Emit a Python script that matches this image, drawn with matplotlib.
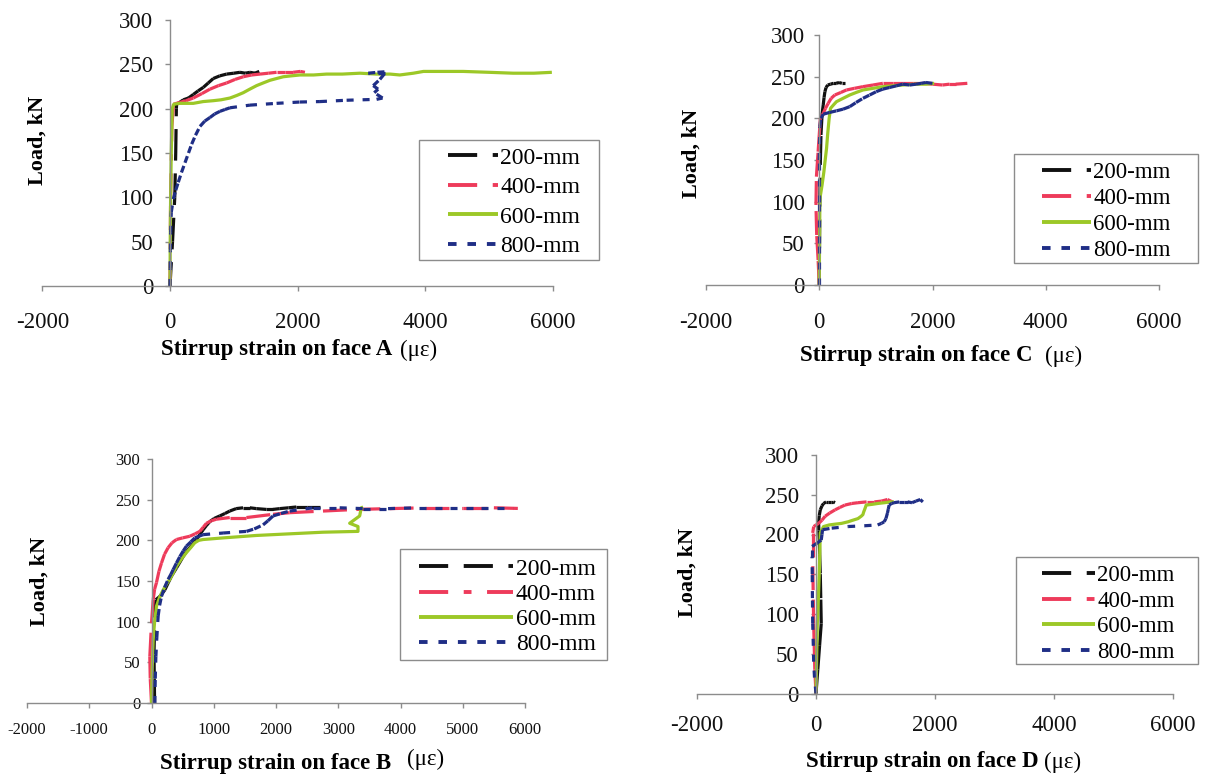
import matplotlib
matplotlib.use("Agg")
import matplotlib.pyplot as plt
from matplotlib.collections import LineCollection
from matplotlib.lines import Line2D
from matplotlib.patches import Rectangle
import numpy as np

plt.rcParams['font.family'] = ['Liberation Serif', 'DejaVu Serif']
plt.rcParams['axes.unicode_minus'] = False

# ---------------- data ----------------
series_labels = ["200-mm", "400-mm", "600-mm", "800-mm"]

# Face A
faceA_200_strain = [0, 40, 75, 90, 100, 104, 150, 209, 290, 365, 440, 522, 600, 678, 780, 887, 1000, 1096, 1180, 1253, 1330, 1399]
faceA_200_load   = [0, 50, 100, 150, 200, 205, 207, 210, 212, 216, 220, 224, 229, 234, 237, 239, 240, 241, 240, 241, 240, 242]
faceA_400_strain = [0, 10, 30, 55, 150, 250, 365, 500, 626, 760, 887, 1020, 1148, 1280, 1410, 1540, 1670, 1800, 1931, 2040, 2114]
faceA_400_load   = [0, 100, 180, 205, 207, 209, 212, 217, 222, 226, 229, 233, 236, 238, 239, 240, 241, 241, 241, 242, 241]
faceA_600_strain = [0, 5, 10, 20, 35, 60, 150, 250, 365, 520, 678, 800, 940, 1050, 1148, 1250, 1357, 1460, 1566, 1670, 1775, 1900, 2036, 2250, 2453, 2700, 2975, 3236, 3448, 3600, 3813, 3971, 4300, 4593, 5000, 5376, 5700, 5982]
faceA_600_load   = [0, 60, 100, 150, 200, 205, 206, 206, 206, 208, 209, 210, 212, 215, 218, 222, 226, 229, 232, 234, 236, 237, 238, 238, 239, 239, 240, 239, 239, 238, 240, 242, 242, 242, 241, 240, 240, 241]
faceA_800_strain = [0, 3, 6, 10, 20, 52, 90, 130, 180, 235, 290, 340, 400, 470, 545, 626, 700, 783, 860, 940, 1253, 1670, 2036, 2349, 2767, 3236, 3330, 3200, 3260, 3184, 3288, 3367, 3106, 3250, 3445]
faceA_800_load   = [0, 20, 40, 60, 83, 98, 108, 117, 128, 139, 150, 160, 170, 180, 186, 190, 194, 197, 199, 201, 204, 206, 207.5, 208, 209.5, 210.5, 212, 218, 222, 226, 233, 240, 240, 241, 242]

# Face C
faceC_200_strain = [0, 5, 10, 20, 30, 50, 70, 85, 100, 120, 150, 200, 250, 300, 350, 400, 450]
faceC_200_load   = [0, 50, 100, 150, 180, 205, 216, 225, 232, 237, 240, 241, 242, 242, 243, 242, 242]
faceC_400_strain = [0, -20, -45, -58, -50, -20, 0, 20, 70, 110, 158, 210, 275, 380, 480, 620, 772, 950, 1123, 1300, 1474, 1650, 1825, 2000, 2176, 2300, 2410, 2615]
faceC_400_load   = [0, 30, 60, 96, 130, 160, 180, 200, 206, 212, 218, 224, 228, 231, 234, 236, 238, 240, 242, 242, 242, 242, 242, 241, 240, 241, 241, 242]
faceC_600_strain = [0, 5, 12, 50, 82, 105, 129, 150, 175, 199, 250, 304, 420, 538, 650, 772, 950, 1123, 1300, 1474, 1700, 1884, 2030]
faceC_600_load   = [0, 50, 104, 120, 136, 150, 164, 182, 200, 212, 216, 220, 224, 228, 231, 234, 236, 238, 239, 240, 241, 241, 242]
faceC_800_strain = [0, 0, 0, 0, 10, 30, 70, 180, 304, 420, 538, 650, 772, 890, 1006, 1120, 1240, 1360, 1474, 1600, 1708, 1800, 1884, 2000]
faceC_800_load   = [0, 50, 100, 150, 190, 200, 205, 207, 209, 211, 214, 219, 224, 228, 232, 235, 237, 239, 241, 240, 241, 242, 243, 242]

# Face B
faceB_200_strain = [50, 45, 40, 53, 70, 134, 214, 270, 321, 401, 455, 508, 560, 615, 670, 722, 776, 829, 880, 936, 1010, 1097, 1180, 1257, 1360, 1471, 1580, 1685, 1846, 1950, 2060, 2200, 2327, 2500, 2702]
faceB_200_load   = [0, 30, 60, 107, 127, 131, 139, 148, 156, 166, 173, 180, 186, 191, 196, 201, 207, 213, 218, 223, 227, 230, 233, 236, 239, 240, 240, 239, 238, 238, 239, 240, 241, 241, 241]
faceB_400_strain = [0, -20, -27, 0, 27, 50, 80, 120, 160, 210, 267, 330, 401, 500, 615, 700, 776, 830, 883, 960, 1043, 1257, 1525, 1953, 2220, 2755, 3290, 3825, 4400, 5000, 5500, 6000]
faceB_400_load   = [0, 30, 57, 98, 127, 140, 148, 162, 172, 183, 191, 197, 201, 203, 205, 208, 211, 216, 221, 224, 226, 228, 228, 232, 234, 236, 238, 239, 240, 240, 240, 239]
faceB_600_strain = [0, 10, 27, 50, 80, 130, 187, 240, 294, 350, 401, 480, 562, 630, 695, 760, 829, 1150, 1685, 2220, 2755, 3317, 3317, 3183, 3344, 3370, 3400]
faceB_600_load   = [0, 40, 78, 100, 119, 130, 139, 146, 152, 160, 168, 177, 185, 191, 197, 200, 201, 203, 206, 208, 210, 211, 217, 221, 230, 240, 241]
faceB_800_strain = [53, 60, 70, 85, 107, 130, 160, 210, 267, 310, 348, 400, 455, 510, 562, 630, 695, 760, 829, 1150, 1525, 1650, 1792, 1870, 1953, 2080, 2220, 2595, 3023, 3397, 3800, 4300, 4800, 5300, 5800]
faceB_800_load   = [0, 30, 57, 80, 107, 120, 131, 142, 152, 158, 164, 172, 180, 187, 193, 198, 203, 205, 207, 209, 211, 214, 219, 224, 230, 233, 236, 240, 240, 239, 239, 240, 240, 240, 240]

# Face D
faceD_200_strain = [0, 30, 60, 88, 80, 72, 62, 55, 48, 44, 55, 72, 100, 127, 170, 209, 250, 292, 320]
faceD_200_load   = [0, 30, 60, 88, 120, 151, 175, 193, 205, 214, 224, 231, 236, 239, 241, 241, 241, 241, 240]
faceD_400_strain = [0, -20, -30, -39, -48, -55, -55, -39, 0, 44, 100, 154, 230, 320, 400, 485, 600, 705, 850, 981, 1100, 1201, 1284]
faceD_400_load   = [0, 30, 60, 88, 130, 172, 202, 210, 212, 214, 218, 223, 227, 231, 234, 237, 239, 240, 241, 241, 242, 244, 241]
faceD_600_strain = [0, 10, 22, 40, 55, 65, 72, 127, 220, 320, 430, 540, 620, 705, 760, 788, 800, 815, 830, 843, 950, 1036, 1150, 1250, 1311]
faceD_600_load   = [0, 40, 88, 120, 151, 180, 202, 210, 212, 213, 214, 216, 218, 220, 223, 225, 228, 231, 234, 237, 238, 239, 240, 241, 241]
faceD_800_strain = [0, -25, -39, -45, -55, -60, -63, -66, -66, 16, 88, 100, 110, 264, 540, 815, 1036, 1100, 1146, 1175, 1201, 1215, 1229, 1270, 1311, 1400, 1477, 1540, 1614, 1680, 1752, 1796]
faceD_800_load   = [0, 20, 40, 60, 88, 120, 150, 172, 185, 189, 193, 200, 206, 208, 210, 211, 212, 214, 216, 220, 227, 232, 237, 239, 240, 241, 241, 241, 240, 242, 244, 241]

x_ticks_main = [-2000, 0, 2000, 4000, 6000]
x_ticks_B = [-2000, -1000, 0, 1000, 2000, 3000, 4000, 5000, 6000]
y_ticks = [0, 50, 100, 150, 200, 250, 300]

# ---------------- styles ----------------
series_colors = ["#111111", "#EE3B5B", "#9CC827", "#1F2E86"]
series_dashes = [(7.5, 4.0), (7.5, 4.0, 2.0, 4.0), None, (2.2, 2.8)]
LW = 2.3
AXC = "#8c8c8c"
UNIT = "(\u03bc\u03b5)"

W, H = 1208, 778
fig = plt.figure(figsize=(W / 100, H / 100), dpi=100)
fig.patch.set_facecolor("white")


def px_axes(x0, x1, ytop, ybot):
    return [x0 / W, 1 - ybot / H, (x1 - x0) / W, (ybot - ytop) / H]


panels = [
    dict(name="A", rect=(42.3, 553, 20, 286), xticks=x_ticks_main, tfs=16.5, ypad=8.5, xpad=15.5,
         xlabel="Stirrup strain on face A", xlab=(0.4596, -0.2406), unit_off=(7, 0), ylab=(-0.0088, 0.549),
         box=(419, 140, 599, 260), anchor=(448, 147), hl=2.12, ls=0.34, lfs=17,
         data=[(faceA_200_strain, faceA_200_load), (faceA_400_strain, faceA_400_load),
               (faceA_600_strain, faceA_600_load), (faceA_800_strain, faceA_800_load)]),
    dict(name="C", rect=(706, 1159, 35, 285), xticks=x_ticks_main, tfs=16.5, ypad=7, xpad=16,
         xlabel="Stirrup strain on face C", xlab=(0.4636, -0.284), unit_off=(13, 0), ylab=(-0.031, 0.525),
         box=(1014, 154, 1198, 263), anchor=(1042, 162), hl=2.13, ls=0.22, lfs=16.5,
         data=[(faceC_200_strain, faceC_200_load), (faceC_400_strain, faceC_400_load),
               (faceC_600_strain, faceC_600_load), (faceC_800_strain, faceC_800_load)]),
    dict(name="B", rect=(27, 525, 459, 703), xticks=x_ticks_B, tfs=12, ypad=4.5, xpad=10.4,
         xlabel="Stirrup strain on face B", xlab=(0.4994, -0.246), unit_off=(16, 4), ylab=(0.026, 0.5),
         box=(400, 549, 607, 660), anchor=(419, 558), hl=4.0, ls=0.16, lfs=17,
         data=[(faceB_200_strain, faceB_200_load), (faceB_400_strain, faceB_400_load),
               (faceB_600_strain, faceB_600_load), (faceB_800_strain, faceB_800_load)]),
    dict(name="D", rect=(697, 1173, 455, 693.5), xticks=x_ticks_main, tfs=16.5, ypad=9, xpad=12.3,
         xlabel="Stirrup strain on face D", xlab=(0.4727, -0.287), unit_off=(6, 0), ylab=(-0.02, 0.5065),
         box=(1016, 557, 1198, 664), anchor=(1042, 565), hl=2.3, ls=0.2, lfs=16.5,
         data=[(faceD_200_strain, faceD_200_load), (faceD_400_strain, faceD_400_load),
               (faceD_600_strain, faceD_600_load), (faceD_800_strain, faceD_800_load)]),
]


def draw_series(ax, x, y, color, dashes):
    x = np.asarray(x, float)
    y = np.asarray(y, float)
    if dashes is None:
        ax.plot(x, y, color=color, lw=LW, solid_joinstyle="round", solid_capstyle="butt")
        return
    pts = np.column_stack([x, y])
    segs = np.stack([pts[:-1], pts[1:]], axis=1)
    lc = LineCollection(segs, colors=color, linewidths=LW, linestyles=[(0, dashes)],
                        capstyle="butt", joinstyle="round")
    ax.add_collection(lc)


for p in panels:
    x0, x1, ytop, ybot = p["rect"]
    ax = fig.add_axes(px_axes(x0, x1, ytop, ybot))
    ax.set_xlim(-2000, 6000)
    ax.set_ylim(0, 300)
    ax.patch.set_visible(False)
    for s in ["top", "right"]:
        ax.spines[s].set_visible(False)
    ax.spines["left"].set_position(("data", 0))
    for s in ["left", "bottom"]:
        ax.spines[s].set_color(AXC)
        ax.spines[s].set_linewidth(1.0)
    ax.set_xticks(p["xticks"])
    ax.set_yticks(y_ticks)
    ax.tick_params(axis="y", direction="out", length=3.5, width=1, color=AXC,
                   pad=p["ypad"], labelsize=p["tfs"], labelcolor="#111111")
    ax.tick_params(axis="x", direction="out", length=3.5, width=1, color=AXC,
                   pad=p["xpad"], labelsize=p["tfs"], labelcolor="#111111")

    for (xs, ys), c, d in zip(p["data"], series_colors, series_dashes):
        draw_series(ax, xs, ys, c, d)

    ax.set_xlabel(p["xlabel"], fontsize=16.5, fontweight="bold", va="center", ha="center")
    ax.xaxis.set_label_coords(*p["xlab"])
    ax.annotate(UNIT, xy=(1, 0.5), xycoords=ax.xaxis.label, xytext=p["unit_off"],
                textcoords="offset pixels", ha="left", va="center", fontsize=16.5,
                fontweight="normal", annotation_clip=False)
    ax.set_ylabel("Load, kN", fontsize=16, fontweight="bold", va="center", ha="center", rotation=90)
    ax.yaxis.set_label_coords(*p["ylab"])

    # legend frame
    bx0, by0, bx1, by1 = p["box"]
    rect = Rectangle((bx0 / W, 1 - by1 / H), (bx1 - bx0) / W, (by1 - by0) / H,
                     transform=fig.transFigure, facecolor="white", edgecolor=AXC,
                     lw=1.0, zorder=4, clip_on=False)
    ax.add_patch(rect)

    handles = []
    for c, d in zip(series_colors, series_dashes):
        if d is None:
            h = Line2D([], [], color=c, lw=LW + 0.5, solid_capstyle="butt")
        else:
            h = Line2D([], [], color=c, lw=LW + 0.5, dashes=d, dash_capstyle="butt")
        handles.append(h)
    ax.legend(handles, series_labels, loc="upper left",
              bbox_to_anchor=(p["anchor"][0] / W, 1 - p["anchor"][1] / H),
              bbox_transform=fig.transFigure, frameon=False, borderpad=0, borderaxespad=0,
              handlelength=p["hl"], handletextpad=0.1, labelspacing=p["ls"],
              fontsize=p["lfs"])

fig.savefig("out.png", dpi=100, facecolor="white")
